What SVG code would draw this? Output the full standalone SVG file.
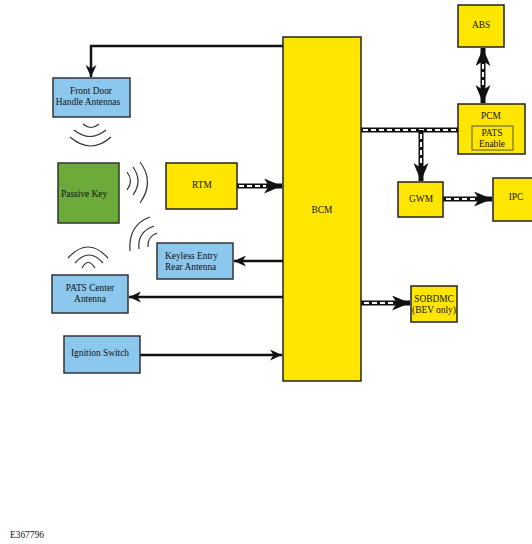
<svg xmlns="http://www.w3.org/2000/svg" width="532" height="544" viewBox="0 0 532 544">
<style>
.t{font-family:"Liberation Serif","Times New Roman",serif;font-size:9.4px;fill:#111}
.c{text-anchor:middle}
.y{fill:#ffe600;stroke:#222;stroke-width:1.5}
.b{fill:#8cc8ee;stroke:#333;stroke-width:1.5}
.g{fill:#6caa3a;stroke:#333;stroke-width:1.5}
.ln{fill:none;stroke:#111;stroke-width:2.5}
.bk{fill:none;stroke:#111;stroke-width:5}
.wd{fill:none;stroke:#fff;stroke-width:2;stroke-dasharray:5 3}
.wv{fill:none;stroke:#333;stroke-width:1.2}
</style>
<defs>
<marker id="ah" markerUnits="userSpaceOnUse" markerWidth="13" markerHeight="11" refX="12" refY="5.5" orient="auto"><path d="M0,0 L12,5.5 L0,11 L3.5,5.5 z" fill="#111"/></marker>
<marker id="ahb" markerUnits="userSpaceOnUse" markerWidth="19" markerHeight="15" refX="18" refY="7.5" orient="auto-start-reverse"><path d="M0,0 L18,7.5 L0,15 L5,7.5 z" fill="#111"/></marker>
</defs>
<rect width="532" height="544" fill="#fff"/>
<g id="connectors">
<path class="ln" d="M283,46 H91 V77" marker-end="url(#ah)"/>
<path class="ln" d="M283,261 H234" marker-end="url(#ah)"/>
<path class="ln" d="M283,297 H129" marker-end="url(#ah)"/>
<path class="ln" d="M140,355 H282" marker-end="url(#ah)"/>
<path class="bk" d="M237,186 H282" marker-end="url(#ahb)"/>
<path class="wd" d="M239,186 H266"/>
<path class="bk" d="M483,48 V103" marker-start="url(#ahb)" marker-end="url(#ahb)"/>
<path class="wd" d="M483,64 V88"/>
<path class="bk" d="M361,130 H458"/>
<path class="wd" d="M363,130 H456"/>
<path class="bk" d="M421,130 V181" marker-end="url(#ahb)"/>
<path class="wd" d="M421,134 V165"/>
<path class="bk" d="M443,199 H492" marker-end="url(#ahb)"/>
<path class="wd" d="M446,199 H476"/>
<path class="bk" d="M361,303 H410" marker-end="url(#ahb)"/>
<path class="wd" d="M364,303 H394"/>
</g>
<g id="waves">
<path class="wv" d="M83,124 Q91,131 99,124"/>
<path class="wv" d="M74,130 Q90,143 106,130"/>
<path class="wv" d="M70,137 Q91,155 111,137"/>
<path class="wv" d="M127,172 Q134,181 127,190"/>
<path class="wv" d="M133,167 Q143,181 133,195"/>
<path class="wv" d="M140,162 Q155,182 140,203"/>
<path class="wv" d="M130,251 Q128,225 150,217"/>
<path class="wv" d="M139,249 Q137,232 154,226"/>
<path class="wv" d="M148,247 Q147,237 157,233"/>
<path class="wv" d="M68,258 Q88,236 108,258"/>
<path class="wv" d="M75,263 Q89,247 103,263"/>
<path class="wv" d="M82,268 Q88,257 95,268"/>
</g>
<g id="bcm"><rect class="y" x="283" y="37" width="78" height="344"/><text class="t c" x="322" y="213">BCM</text></g>
<g id="front-door"><rect class="b" x="53" y="78" width="77" height="39"/><text class="t c" x="91" y="94">Front Door</text><text class="t c" x="88" y="105">Handle Antennas</text></g>
<g id="passive-key"><rect class="g" x="58" y="163" width="61" height="60"/><text class="t" x="61" y="197">Passive Key</text></g>
<g id="rtm"><rect class="y" x="166" y="163" width="71" height="46"/><text class="t c" x="202" y="188">RTM</text></g>
<g id="keyless"><rect class="b" x="157" y="243" width="76" height="36"/><text class="t" x="165" y="259">Keyless Entry</text><text class="t" x="165" y="270">Rear Antenna</text></g>
<g id="pats-center"><rect class="b" x="52" y="275" width="76" height="38"/><text class="t c" x="90" y="291">PATS Center</text><text class="t c" x="90" y="302">Antenna</text></g>
<g id="ignition"><rect class="b" x="64" y="336" width="76" height="37"/><text class="t c" x="100" y="356">Ignition Switch</text></g>
<g id="abs"><rect class="y" x="458" y="5" width="46" height="42"/><text class="t c" x="481" y="28">ABS</text></g>
<g id="pcm"><rect class="y" x="458" y="104" width="67" height="50"/><text class="t c" x="491" y="119">PCM</text><rect x="472" y="126" width="41" height="24" fill="#ffe600" stroke="#555" stroke-width="1"/><text class="t c" x="492" y="136">PATS</text><text class="t c" x="492" y="147">Enable</text></g>
<g id="gwm"><rect class="y" x="398" y="182" width="45" height="35"/><text class="t c" x="421" y="202">GWM</text></g>
<g id="ipc"><rect class="y" x="493" y="178" width="45" height="43"/><text class="t c" x="516" y="200">IPC</text></g>
<g id="sobdmc"><rect class="y" x="411" y="286" width="46" height="36"/><text class="t c" x="434" y="302">SOBDMC</text><text class="t c" x="434" y="313">(BEV only)</text></g>
<text class="t" x="10" y="538">E367796</text>
</svg>
